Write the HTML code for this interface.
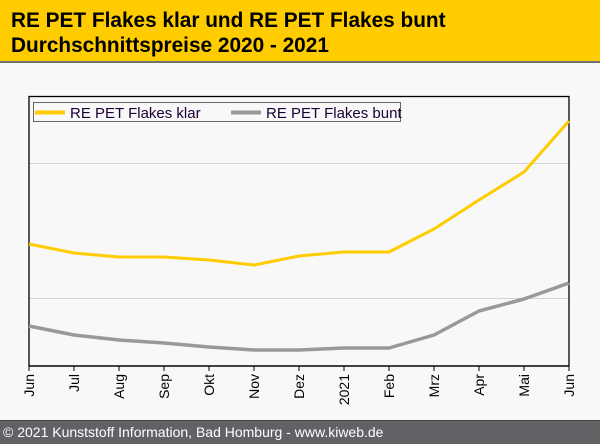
<!DOCTYPE html>
<html><head><meta charset="utf-8"><style>
body{margin:0;width:600px;height:444px;overflow:hidden;background:#f8f8f8;font-family:"Liberation Sans",sans-serif;}
</style></head><body>
<svg width="600" height="444" xmlns="http://www.w3.org/2000/svg" style="position:absolute;left:0;top:0">
<rect x="0" y="0" width="600" height="61" fill="#ffcc00"/>
<rect x="0" y="61" width="600" height="2" fill="#707070"/>
<text x="11" y="27" font-family="Liberation Sans" font-weight="bold" font-size="20.8" fill="#000">RE PET Flakes klar und RE PET Flakes bunt</text>
<text x="11" y="52" font-family="Liberation Sans" font-weight="bold" font-size="20.8" fill="#000">Durchschnittspreise 2020 - 2021</text>
<g stroke="#d4d4d4" stroke-width="1">
<line x1="29" y1="163.5" x2="569" y2="163.5"/>
<line x1="29" y1="298.5" x2="569" y2="298.5"/>
</g>
<rect x="29" y="96.5" width="540" height="269.5" fill="none" stroke="#000" stroke-width="1.3"/>
<rect x="33.5" y="102.5" width="367" height="19" fill="#f8f8f8" stroke="#666" stroke-width="1"/>
<line x1="35" y1="112.5" x2="65" y2="112.5" stroke="#ffcc00" stroke-width="4"/>
<text x="70" y="118" font-size="15" fill="#1a0033">RE PET Flakes klar</text>
<line x1="231" y1="112.5" x2="261" y2="112.5" stroke="#999" stroke-width="4"/>
<text x="266" y="118" font-size="15" fill="#1a0033">RE PET Flakes bunt</text>
<polyline fill="none" stroke="#ffcc00" stroke-width="3" stroke-linejoin="round" points="29,244 74,253 119,257 164,257 209,260 254,265 299,256 344,252 389,252 434,229 479,200 524,172 569,121"/>
<polyline fill="none" stroke="#999" stroke-width="3.5" stroke-linejoin="round" points="29,326 74,335 119,340 164,343 209,347 254,350 299,350 344,348 389,348 434,335 479,311 524,299 569,283"/>
<line x1="29" y1="366" x2="569" y2="366" stroke="#000" stroke-width="1.3"/>
<g stroke="#000" stroke-width="1">
<line x1="29" y1="366" x2="29" y2="371"/><line x1="74" y1="366" x2="74" y2="371"/><line x1="119" y1="366" x2="119" y2="371"/><line x1="164" y1="366" x2="164" y2="371"/><line x1="209" y1="366" x2="209" y2="371"/><line x1="254" y1="366" x2="254" y2="371"/><line x1="299" y1="366" x2="299" y2="371"/><line x1="344" y1="366" x2="344" y2="371"/><line x1="389" y1="366" x2="389" y2="371"/><line x1="434" y1="366" x2="434" y2="371"/><line x1="479" y1="366" x2="479" y2="371"/><line x1="524" y1="366" x2="524" y2="371"/><line x1="569" y1="366" x2="569" y2="371"/>
</g>
<g font-size="14" fill="#000" text-anchor="end">
<text transform="translate(34,374) rotate(-90)">Jun</text>
<text transform="translate(79,374) rotate(-90)">Jul</text>
<text transform="translate(124,374) rotate(-90)">Aug</text>
<text transform="translate(169,374) rotate(-90)">Sep</text>
<text transform="translate(214,374) rotate(-90)">Okt</text>
<text transform="translate(259,374) rotate(-90)">Nov</text>
<text transform="translate(304,374) rotate(-90)">Dez</text>
<text transform="translate(349,374) rotate(-90)">2021</text>
<text transform="translate(394,374) rotate(-90)">Feb</text>
<text transform="translate(439,374) rotate(-90)">Mrz</text>
<text transform="translate(484,374) rotate(-90)">Apr</text>
<text transform="translate(529,374) rotate(-90)">Mai</text>
<text transform="translate(574,374) rotate(-90)">Jun</text>
</g>
<rect x="0" y="420" width="600" height="24" fill="#626266"/>
<rect x="0" y="420" width="600" height="1" fill="#444"/>
<text x="3" y="437" font-size="14" fill="#fff">© 2021 Kunststoff Information, Bad Homburg - www.kiweb.de</text>
</svg>
</body></html>
